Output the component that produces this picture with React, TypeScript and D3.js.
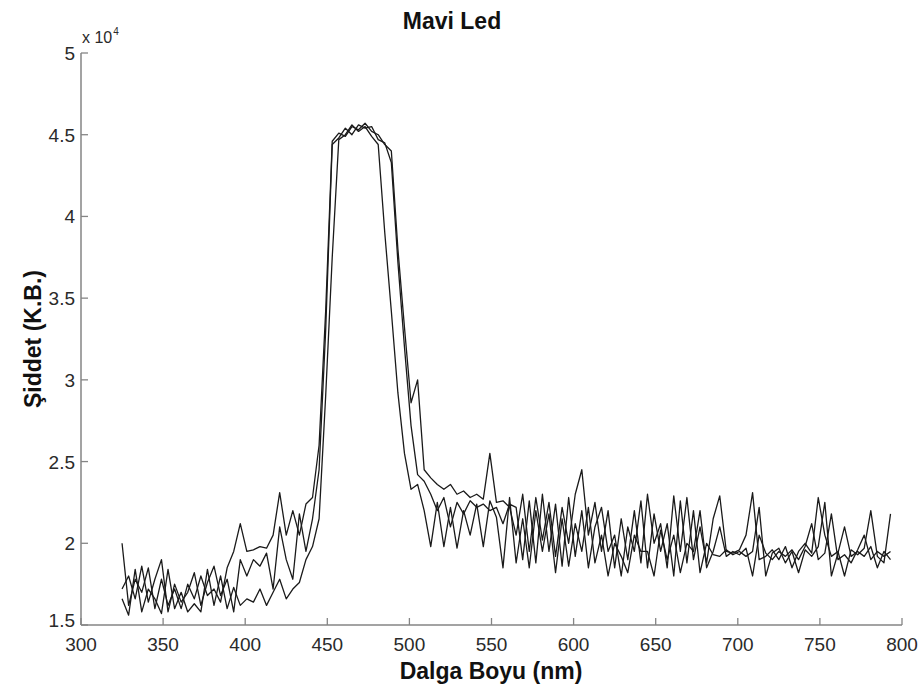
import React from "react";
import * as d3 from "d3";

const wavelengths = [
  325, 329, 333, 337, 341, 345, 349, 353, 357, 361, 365, 369, 373, 377, 381, 385, 389, 393, 397, 401,
  405, 409, 413, 417, 421, 425, 429, 433, 437, 441, 445, 449, 453, 457, 461, 465, 469, 473, 477, 481,
  485, 489, 493, 497, 501, 505, 509, 513, 517, 521, 525, 529, 533, 537, 541, 545, 549, 553, 557, 561,
  565, 569, 573, 577, 581, 585, 589, 593, 597, 601, 605, 609, 613, 617, 621, 625, 629, 633, 637, 641,
  645, 649, 653, 657, 661, 665, 669, 673, 677, 681, 685, 689, 693, 697, 701, 705, 709, 713, 717, 721,
  725, 729, 733, 737, 741, 745, 749, 753, 757, 761, 765, 769, 773, 777, 781, 785, 789, 793,
];

// intensities in units of 10^4
const seriesA = [
  2.0, 1.62, 1.78, 1.7, 1.85, 1.6, 1.78, 1.62, 1.72, 1.6, 1.75, 1.66, 1.8, 1.68, 1.72, 1.64, 1.85, 1.95, 2.12, 1.95,
  1.96, 1.98, 1.97, 2.05, 2.31, 2.05, 2.2, 2.05, 2.24, 2.28,
  2.6, 3.42, 4.46, 4.51, 4.49, 4.55, 4.53, 4.57, 4.52, 4.5, 4.44, 4.4, 3.8, 3.32, 2.86, 3.0, 2.45,
  2.4, 2.36, 2.33, 2.36, 2.3, 2.32, 2.28, 2.3, 2.27, 2.55, 2.25, 2.26, 2.22,
  2.05, 2.3, 1.95, 2.28, 2.02, 2.25, 1.92, 2.22, 2.0, 2.3, 2.45, 2.05, 2.25, 1.95, 2.2, 1.85, 2.15, 1.9, 2.2, 1.88,
  2.3, 2.0, 2.12, 1.85, 2.29, 1.95, 2.28, 1.9, 2.1, 1.88, 2.15, 2.29, 1.95, 1.94, 1.96, 2.05, 2.31, 1.9, 1.92, 1.96,
  1.9, 1.98, 1.85, 1.95, 2.0, 1.94, 2.28, 2.05, 1.92, 1.95, 1.8, 1.96, 1.93, 1.97, 2.2, 1.92, 1.88, 2.18,
];

const seriesB = [
  1.72, 1.8, 1.66, 1.86, 1.64, 1.78, 1.9, 1.58, 1.75, 1.64, 1.7, 1.82, 1.62, 1.76, 1.86, 1.68, 1.78, 1.58, 1.9, 1.8,
  1.9, 1.86, 1.94, 1.72, 2.1, 1.9, 1.78, 2.18, 1.95, 2.15,
  2.45, 3.3, 4.44, 4.48, 4.54, 4.5, 4.56, 4.54, 4.55, 4.47, 4.45, 4.33, 3.72, 3.2, 2.72, 2.42, 2.38,
  2.3, 2.2, 2.28, 2.1, 2.25, 2.18, 2.26, 2.22, 2.24, 2.2, 2.22, 2.12, 2.24,
  2.22, 1.9, 2.26, 1.88, 2.3, 1.95, 2.24, 1.86, 2.28, 1.92, 2.2, 1.85, 2.1, 2.22, 1.95, 2.05, 1.8, 2.1, 1.95, 2.26,
  1.85, 2.18, 1.95, 2.12, 1.8, 2.26, 1.88, 2.2, 1.82, 2.0, 1.93, 1.92, 1.96, 1.93, 1.95, 1.92, 1.95, 2.22, 1.8, 1.94,
  1.97, 1.88, 1.95, 1.82, 1.96, 1.92, 1.98, 2.25, 1.8, 1.94, 2.1, 1.92, 1.95, 1.92, 1.98, 1.85, 1.95, 1.9,
];

const seriesC = [
  1.66, 1.56, 1.84, 1.58, 1.72, 1.66, 1.57, 1.84, 1.6, 1.7, 1.58, 1.63, 1.58, 1.84, 1.62, 1.8, 1.6, 1.73, 1.62, 1.66,
  1.64, 1.72, 1.62, 1.7, 1.78, 1.66, 1.72, 1.76, 1.9, 1.98,
  2.15, 2.9, 3.75, 4.47, 4.5, 4.56, 4.52, 4.55, 4.49, 4.44, 3.9, 3.42, 2.92, 2.55, 2.33, 2.36, 2.2,
  1.98, 2.25, 1.98, 2.22, 1.97, 2.2, 2.05, 2.24, 1.98, 2.26, 2.16, 1.85, 2.28,
  1.88, 2.15, 1.85, 2.2, 1.95, 2.18, 1.82, 2.15, 1.86, 2.12, 1.95, 2.22, 1.88, 2.05, 1.8, 2.0, 1.92, 1.82, 2.05, 1.95,
  1.95, 1.8, 2.08, 1.9, 2.05, 1.82, 2.0, 1.95, 2.2, 1.85, 1.95, 2.1, 1.92, 1.95, 1.93, 1.97, 1.8, 2.05, 1.94, 1.9,
  1.95, 1.92, 1.96, 1.9, 1.98, 2.12, 1.9, 1.94, 2.18, 1.9, 1.93, 1.88, 1.96, 2.05, 1.9, 1.95, 1.92, 1.95,
];

const xTicks = [300, 350, 400, 450, 500, 550, 600, 650, 700, 750, 800];
const yTicks = [1.5, 2, 2.5, 3, 3.5, 4, 4.5, 5];
const yTickLabels = ["1.5", "2", "2.5", "3", "3.5", "4", "4.5", "5"];

const W = 923;
const H = 691;
const FONT = "'Liberation Sans', Arial, Helvetica, sans-serif";

export default function App() {
  const x = d3.scaleLinear().domain([300, 800]).range([81, 902]);
  const y = d3.scaleLinear().domain([1.5, 5]).range([625, 53]);
  const line = d3
    .line<number>()
    .x((_, i) => x(wavelengths[i]))
    .y((d) => y(d));

  const allSeries = [seriesC, seriesB, seriesA];

  return (
    <svg
      width={W}
      height={H}
      style={{ position: "absolute", left: 0, top: 0, background: "#fff" }}
    >
      <rect x={0} y={0} width={W} height={H} fill="#fff" />
      {allSeries.map((s, i) => (
        <path key={i} d={line(s) || ""} fill="none" stroke="#1a1a1a" strokeWidth={1.3} strokeLinejoin="round" />
      ))}
      {/* axes */}
      <line x1={x(300)} x2={x(800)} y1={y(1.5)} y2={y(1.5)} stroke="#858585" strokeWidth={1.5} />
      <line x1={x(300)} x2={x(300)} y1={y(1.5)} y2={y(5)} stroke="#858585" strokeWidth={1.5} />
      {xTicks.map((t) => (
        <g key={"x" + t}>
          <line x1={x(t)} x2={x(t)} y1={y(1.5)} y2={y(1.5) - 7} stroke="#858585" strokeWidth={1.3} />
          <text x={x(t)} y={651} textAnchor="middle" fontFamily={FONT} fontSize={19} fill="#2a2a2a">
            {t}
          </text>
        </g>
      ))}
      {yTicks.map((t, i) => (
        <g key={"y" + t}>
          <line x1={x(300)} x2={x(300) + 7} y1={y(t)} y2={y(t)} stroke="#858585" strokeWidth={1.3} />
          <text
            x={75}
            y={y(t) + (t === 1.5 ? 2 : 7)}
            textAnchor="end"
            fontFamily={FONT}
            fontSize={19}
            fill="#2a2a2a"
          >
            {yTickLabels[i]}
          </text>
        </g>
      ))}
      <text x={82} y={43} fontFamily={FONT} fontSize={16} fill="#2a2a2a">
        x 10
        <tspan dy={-8} dx={1} fontSize={10}>
          4
        </tspan>
      </text>
      <text x={452} y={29} textAnchor="middle" fontFamily={FONT} fontSize={23} fontWeight="bold" fill="#111">
        Mavi Led
      </text>
      <text x={491} y={679} textAnchor="middle" fontFamily={FONT} fontSize={23} fontWeight="bold" fill="#111">
        Dalga Boyu (nm)
      </text>
      <text
        transform={`translate(41, ${y(3.25)}) rotate(-90)`}
        textAnchor="middle"
        fontFamily={FONT}
        fontSize={23}
        fontWeight="bold"
        fill="#111"
      >
        Şiddet (K.B.)
      </text>
    </svg>
  );
}
